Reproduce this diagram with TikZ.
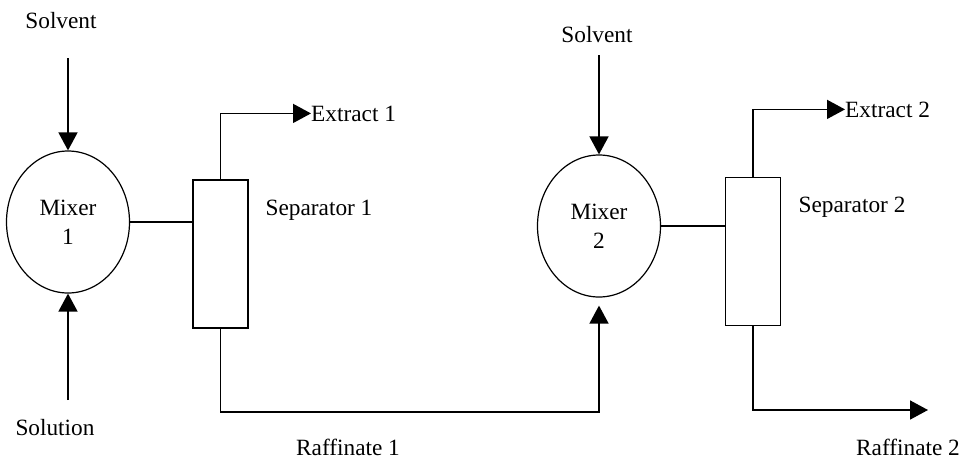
\documentclass[tikz,border=0pt]{standalone}
\usepackage{fontspec}
\setmainfont{Liberation Serif}
\usetikzlibrary{shapes.geometric,arrows.meta}
\begin{document}
\begin{tikzpicture}[x=1pt,y=-1pt,
  every node/.style={font=\fontsize{23.3}{29}\selectfont, inner sep=0pt},
  flow/.style={line width=1.6pt},
  arr/.style={flow,-{Triangle[length=18pt,width=19pt]}},
  mixer/.style={ellipse,draw,line width=1.2pt,minimum width=123pt,minimum height=142pt,align=center},
  sepbox/.style={rectangle,draw,line width=1.8pt,minimum width=55pt,minimum height=148pt},
  lbl/.style={anchor=base},
  lblw/.style={anchor=base west}]
\useasboundingbox (0,0) rectangle (965,461);

% units
\node[mixer] (m1) at (68,222) {Mixer\\1};
\node[mixer] (m2) at (599,226) {Mixer\\2};
\node[sepbox] (s1) at (220.5,254) {};
\node[sepbox] (s2) at (753,251.5) {};

% stream labels
\node[lbl] (solv1) at (61,28) {Solvent};
\node[lbl] (soln) at (55,435) {Solution};
\node[lbl] (sep1l) at (319,215) {Separator 1};
\node[lbl] (solv2) at (597,42) {Solvent};
\node[lbl] (sep2l) at (852,212) {Separator 2};
\node[lbl] (raf1) at (348,455) {Raffinate 1};
\node[lbl] (raf2) at (908,455) {Raffinate 2};
\node[lblw] (ex1) at (311,121) {Extract 1};
\node[lblw] (ex2) at (845,117) {Extract 2};

% free ends and turning points
\coordinate (in1) at (68,58);
\coordinate (feed) at (68,400);
\coordinate (in2) at (599,55);
\coordinate (r1turn) at (400,412);
\coordinate (out2) at (928,410);

% streams
\draw[arr] (in1) -- (m1.north);
\draw[arr] (feed) -- (m1.south);
\draw[flow] (m1.east) -- (m1.east -| s1.west);
\draw[arr] (s1.north) |- (ex1.west);
\draw[arr, shorten >=8pt] (s1.south) |- (r1turn) -| (m2.south);
\draw[arr] (in2) -- (m2.north);
\draw[flow] (m2.east) -- (m2.east -| s2.west);
\draw[arr] (s2.north) |- (ex2.west);
\draw[arr] (s2.south) |- (out2);
\end{tikzpicture}
\end{document}
